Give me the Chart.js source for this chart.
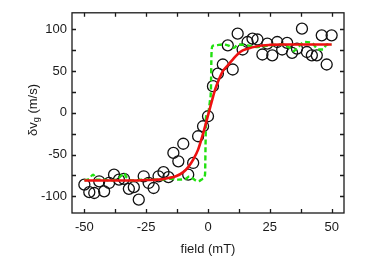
<!DOCTYPE html>
<html>
<head>
<meta charset="utf-8">
<script src="https://cdn.jsdelivr.net/npm/chart.js@4.4.0/dist/chart.umd.min.js"></script>
<style>
  html, body { margin: 0; padding: 0; background: #fff; }
  #wrap { width: 392px; height: 257px; }
</style>
</head>
<body>
<div id="wrap"><canvas id="dvChart"></canvas></div>
<script>
// measured points (open circles)
const fieldVals = [-50, -48, -46, -44, -42, -40, -38, -36, -34, -32, -30, -28, -26, -24, -22, -20, -18, -16, -14, -12,
    -10, -8, -6, -4, -2, 0, 2, 4, 6, 8, 10, 12, 14, 16, 18, 20, 22, 24, 26, 28, 30, 32, 34, 36, 38, 40, 42, 44, 46, 48, 50];
const dvVals = [-86, -95, -96, -82, -94, -84, -74, -80, -79, -91, -89, -104, -76, -84, -90, -76, -71, -77, -48, -58,
    -37, -74, -60, -28, -16, -4, 32, 47, 58, 81, 52, 95, 76, 85, 89, 88, 70, 83, 69, 85, 76, 84, 72, 77, 101, 73, 69, 69, 93, 58, 93];

// fit curve (red)
const fitX = [-50, -40, -30, -25, -20, -16, -13, -10, -8, -6, -4, -2, 0, 1, 2, 3, 4, 6, 8, 10, 13, 16, 20, 25, 30, 40, 50];
const fitY = [-81, -81, -81, -80.5, -80, -78, -76, -71, -65, -56, -44, -25, -3, 8, 19, 29, 37, 50, 57, 64, 73, 77, 80, 81.5, 82, 82, 82];

// model curve (green dashed)
const stepX = [-50, -48, -46.5, -45, -42, -40, -37, -35, -34, -33, -31, -25, -20, -15, -12, -9, -7.5, -6, -4, -2, -1.2, -1, -0.8, 0, 0.8, 1.2, 1.4, 1.8,
    3, 6, 8, 10.5, 12, 16, 20, 25, 30, 33, 34.5, 36.5, 39, 42, 44.6, 46.6, 48, 50];
const stepY = [-81, -79, -74, -80, -80, -81, -80, -75, -72, -77, -81, -80, -80, -79, -80, -79, -76, -79, -82, -79, -74, -40, -5, 0, 15, 30, 70, 80,
    81, 82, 81, 78, 82, 81, 79, 81, 82, 78, 74, 79, 85, 84, 76, 76, 82, 82];

const xMajor = [-50, -25, 0, 25, 50];
const xMinor = [-37.5, -12.5, 12.5, 37.5];
const yMajor = [-100, -50, 0, 50, 100];
const yMinor = [-75, -25, 25, 75];

const fontFam = '"Liberation Sans", Arial, Helvetica, sans-serif';
const inkColor = '#1a1a1a';

// frame, inward ticks and y title with subscript
const frameTicks = {
    id: 'frameTicks',
    afterDraw(chart) {
        const { ctx, chartArea: a, scales: { x, y } } = chart;
        ctx.save();
        ctx.strokeStyle = inkColor;
        ctx.lineWidth = 1.3;
        ctx.strokeRect(a.left, a.top, a.right - a.left, a.bottom - a.top);
        const tl = 4;
        ctx.beginPath();
        xMajor.concat(xMinor).forEach(v => {
            const px = Math.round(x.getPixelForValue(v)) + 0.5;
            ctx.moveTo(px, a.bottom); ctx.lineTo(px, a.bottom - tl);
            ctx.moveTo(px, a.top); ctx.lineTo(px, a.top + tl);
        });
        yMajor.concat(yMinor).forEach(v => {
            const py = Math.round(y.getPixelForValue(v)) + 0.5;
            ctx.moveTo(a.left, py); ctx.lineTo(a.left + tl, py);
            ctx.moveTo(a.right, py); ctx.lineTo(a.right - tl, py);
        });
        ctx.stroke();

        // y axis title: δv_g (m/s)
        ctx.translate(33, 110);
        ctx.rotate(-Math.PI / 2);
        ctx.fillStyle = inkColor;
        ctx.textBaseline = 'middle';
        const big = '13px ' + fontFam, small = '9px ' + fontFam;
        ctx.font = big;
        const w1 = ctx.measureText('δv').width;
        const w3 = ctx.measureText(' (m/s)').width;
        ctx.font = small;
        const w2 = ctx.measureText('g').width;
        let cx = -(w1 + w2 + w3) / 2;
        ctx.font = big;
        ctx.textAlign = 'left';
        ctx.fillText('δv', cx, 0);
        cx += w1;
        ctx.font = small;
        ctx.fillText('g', cx, 4);
        cx += w2;
        ctx.font = big;
        ctx.fillText(' (m/s)', cx, 0);
        ctx.restore();
    }
};

const ctx = document.getElementById('dvChart').getContext('2d');
new Chart(ctx, {
    type: 'scatter',
    data: {
        datasets: [
            {
                label: 'fit',
                type: 'line',
                data: fitX.map((v, i) => ({ x: v, y: fitY[i] })),
                borderColor: '#ee1111',
                borderWidth: 2.6,
                pointRadius: 0,
                fill: false,
                cubicInterpolationMode: 'monotone',
                order: 0
            },
            {
                label: 'model',
                type: 'line',
                data: stepX.map((v, i) => ({ x: v, y: stepY[i] })),
                borderColor: '#22e010',
                borderWidth: 2.4,
                borderDash: [5, 3],
                pointRadius: 0,
                fill: false,
                cubicInterpolationMode: 'monotone',
                order: 1
            },
            {
                label: 'data',
                data: fieldVals.map((v, i) => ({ x: v, y: dvVals[i] })),
                pointRadius: 5.5,
                pointBorderWidth: 1.3,
                pointBorderColor: '#111',
                pointBackgroundColor: 'rgba(0,0,0,0)',
                order: 2
            }
        ]
    },
    options: {
        responsive: true,
        maintainAspectRatio: false,
        animation: false,
        layout: { padding: { left: 0, right: 48, top: 11, bottom: 0 } },
        plugins: {
            legend: { display: false },
            tooltip: { enabled: false }
        },
        scales: {
            x: {
                type: 'linear',
                min: -55,
                max: 55,
                afterBuildTicks: s => { s.ticks = xMajor.map(v => ({ value: v })); },
                afterFit: s => { s.height = 44; },
                grid: { display: false, drawTicks: false },
                border: { display: false },
                ticks: { padding: 7, color: inkColor, font: { family: fontFam, size: 13 } },
                title: { display: true, text: 'field (mT)', color: inkColor, padding: { top: 0, bottom: 0 }, font: { family: fontFam, size: 13 } }
            },
            y: {
                min: -120,
                max: 120,
                afterBuildTicks: s => { s.ticks = yMajor.map(v => ({ value: v })); },
                afterFit: s => { s.width = 72; },
                grid: { display: false, drawTicks: false },
                border: { display: false },
                ticks: { padding: 5, color: inkColor, font: { family: fontFam, size: 13 } }
            }
        }
    },
    plugins: [frameTicks]
});
</script>
</body>
</html>
